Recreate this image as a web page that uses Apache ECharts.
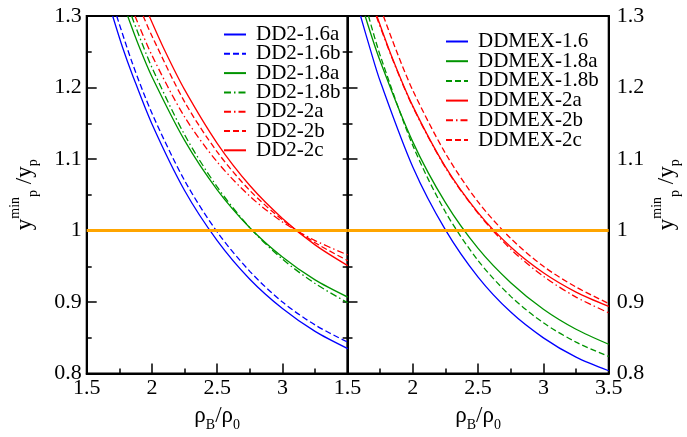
<!DOCTYPE html>
<html>
<head>
<meta charset="utf-8">
<script src="https://cdn.jsdelivr.net/npm/echarts@6/dist/echarts.min.js"></script>
<style>
  html, body { margin: 0; padding: 0; background: #fff; }
  #main { width: 687px; height: 437px; }
</style>
</head>
<body>
<div id="main"></div>
<script>
// tick values
const xTicks = [1.5, 2, 2.5, 3, 3.5];
const yTicks = [0.8, 0.9, 1.0, 1.1, 1.2, 1.3];
const refValue = 1.0;

// left panel, DD2 curves  [rho_B/rho_0, y_p^min/y_p]
const dd2_16a = [[1.699,1.3],[1.775,1.256],[1.85,1.218],[2.0,1.149],[2.25,1.056],[2.5,0.986],[2.75,0.932],[3.0,0.891],[3.25,0.859],[3.5,0.835]];
const dd2_16b = [[1.730,1.3],[1.85,1.234],[2.0,1.164],[2.25,1.070],[2.5,0.998],[2.75,0.943],[3.0,0.900],[3.25,0.868],[3.5,0.844]];
const dd2_18a = [[1.814,1.3],[1.9,1.258],[2.0,1.215],[2.25,1.126],[2.5,1.057],[2.75,1.004],[3.0,0.963],[3.25,0.931],[3.5,0.907]];
const dd2_18b = [[1.844,1.3],[1.9,1.273],[2.0,1.228],[2.25,1.134],[2.5,1.061],[2.75,1.004],[3.0,0.960],[3.25,0.926],[3.5,0.899]];
const dd2_2a  = [[1.870,1.3],[2.0,1.245],[2.25,1.159],[2.5,1.096],[2.75,1.048],[3.0,1.012],[3.25,0.986],[3.5,0.966]];
const dd2_2b  = [[1.933,1.3],[2.0,1.272],[2.25,1.180],[2.5,1.110],[2.75,1.056],[3.0,1.015],[3.25,0.983],[3.5,0.958]];
const dd2_2c  = [[1.979,1.3],[2.1,1.251],[2.25,1.197],[2.5,1.122],[2.75,1.063],[3.0,1.017],[3.25,0.980],[3.5,0.951]];

// right panel, DDMEX curves
const ddmex_16  = [[1.600,1.3],[1.675,1.253],[1.75,1.209],[2.0,1.089],[2.25,1.001],[2.5,0.935],[2.75,0.886],[3.0,0.850],[3.25,0.823],[3.5,0.804]];
const ddmex_18a = [[1.635,1.3],[1.75,1.237],[2.0,1.124],[2.25,1.039],[2.5,0.975],[2.75,0.927],[3.0,0.890],[3.25,0.862],[3.5,0.841]];
const ddmex_18b = [[1.661,1.3],[1.75,1.245],[2.0,1.119],[2.25,1.026],[2.5,0.958],[2.75,0.908],[3.0,0.871],[3.25,0.844],[3.5,0.824]];
const ddmex_2a  = [[1.725,1.3],[1.85,1.238],[2.0,1.174],[2.25,1.089],[2.5,1.025],[2.75,0.977],[3.0,0.941],[3.25,0.914],[3.5,0.894]];
const ddmex_2b  = [[1.720,1.3],[1.85,1.237],[2.0,1.173],[2.25,1.088],[2.5,1.024],[2.75,0.974],[3.0,0.936],[3.25,0.907],[3.5,0.885]];
const ddmex_2c  = [[1.775,1.3],[1.875,1.251],[2.0,1.196],[2.25,1.108],[2.5,1.040],[2.75,0.989],[3.0,0.950],[3.25,0.921],[3.5,0.898]];

const FONT = 'Liberation Serif, Times New Roman, Times, serif';
const BLUE = '#0000ff', GREEN = '#009400', RED = '#ff0000', ORANGE = '#ffa500';
const DASH = [6, 3];
const DASHDOT = [7, 3, 1.5, 3];

const chart = echarts.init(document.getElementById('main'), null, { renderer: 'canvas' });

function curve(name, data, color, dash, panel) {
  return {
    name: name,
    type: 'line',
    xAxisIndex: panel,
    yAxisIndex: panel * 2,
    data: data,
    smooth: 0.3,
    symbol: 'none',
    showSymbol: false,
    animation: false,
    lineStyle: { color: color, width: 1.3, type: dash },
    itemStyle: { color: color }
  };
}

function refLine(panel) {
  return {
    type: 'line',
    xAxisIndex: panel,
    yAxisIndex: panel * 2,
    data: [],
    silent: true,
    markLine: {
      silent: true,
      symbol: 'none',
      animation: false,
      label: { show: false },
      lineStyle: { color: ORANGE, width: 3, type: 'solid' },
      data: [{ yAxis: refValue }]
    }
  };
}

const yName = '{a|y}{sp|min}{sb|p}{a| /y}{sb|p}';
const xName = '{a|ρ}{sb|B}{a|/ρ}{sb|0}';
const nameRich = {
  a: { fontFamily: FONT, fontSize: 23, color: '#000', lineHeight: 32 },
  sp: { fontFamily: FONT, fontSize: 14, color: '#000', lineHeight: 14, verticalAlign: 'top' },
  sb: { fontFamily: FONT, fontSize: 14, color: '#000', lineHeight: 14, verticalAlign: 'bottom' }
};

const tickLine = { color: '#000', width: 1.5 };
const labelStyle = { fontFamily: FONT, fontSize: 22, color: '#000' };

function xAxis(panel) {
  return {
    type: 'value',
    gridIndex: panel,
    min: xTicks[0],
    max: xTicks[xTicks.length - 1],
    interval: 0.5,
    axisLine: { show: true, onZero: false, lineStyle: { color: '#000', width: 2 } },
    axisTick: { show: true, inside: true, length: 10, lineStyle: tickLine },
    minorTick: { show: true, splitNumber: 2, length: 5, lineStyle: tickLine },
    splitLine: { show: false },
    axisLabel: Object.assign({ margin: 4, showMaxLabel: panel === 1 }, labelStyle),
    name: xName,
    nameLocation: 'middle',
    nameGap: 24,
    nameTextStyle: { rich: nameRich }
  };
}

function yAxis(panel, position, withLabels) {
  const ax = {
    type: 'value',
    gridIndex: panel,
    position: position,
    min: yTicks[0],
    max: yTicks[yTicks.length - 1],
    interval: 0.1,
    axisLine: { show: true, onZero: false, lineStyle: { color: '#000', width: 2 } },
    axisTick: { show: true, inside: true, length: 10, lineStyle: tickLine },
    minorTick: { show: true, splitNumber: 2, length: 5, lineStyle: tickLine },
    splitLine: { show: false },
    axisLabel: Object.assign({ show: withLabels, margin: position === 'left' ? 5 : 8 }, labelStyle)
  };
  if (withLabels) {
    ax.name = yName;
    ax.nameLocation = 'middle';
    ax.nameRotate = 90;
    ax.nameGap = position === 'left' ? 46 : 42;
    ax.nameTextStyle = { rich: nameRich };
  }
  return ax;
}

const legendText = { fontFamily: FONT, fontSize: 21, color: '#000', lineHeight: 19, padding: [0, 0, 0, 5] };

const option = {
  backgroundColor: '#fff',
  animation: false,
  grid: [
    { left: 86.7, top: 16, width: 261, height: 367.3, show: true, borderColor: '#000', borderWidth: 2 },
    { left: 347.5, top: 16, width: 261.2, height: 367.3, show: true, borderColor: '#000', borderWidth: 2 }
  ],
  xAxis: [xAxis(0), xAxis(1)],
  yAxis: [
    yAxis(0, 'left', true),
    Object.assign(yAxis(0, 'right', false), { axisTick: { show: true, inside: true, length: 5, lineStyle: tickLine }, minorTick: { show: true, splitNumber: 2, length: 5, lineStyle: tickLine } }),
    yAxis(1, 'left', false),
    Object.assign(yAxis(1, 'right', true), { axisTick: { show: false }, minorTick: { show: false } })
  ],
  legend: [
    {
      orient: 'vertical', left: 218, top: 19, itemGap: -1.7, itemWidth: 22, itemHeight: 10,
      textStyle: legendText, inactiveColor: '#000', itemStyle: { opacity: 0 },
      data: ['DD2-1.6a', 'DD2-1.6b', 'DD2-1.8a', 'DD2-1.8b', 'DD2-2a', 'DD2-2b', 'DD2-2c']
    },
    {
      orient: 'vertical', left: 440, top: 26, itemGap: -1.3, itemWidth: 22, itemHeight: 10,
      textStyle: legendText, inactiveColor: '#000', itemStyle: { opacity: 0 },
      data: ['DDMEX-1.6', 'DDMEX-1.8a', 'DDMEX-1.8b', 'DDMEX-2a', 'DDMEX-2b', 'DDMEX-2c']
    }
  ],
  series: [
    refLine(0),
    refLine(1),
    curve('DD2-1.6a', dd2_16a, BLUE, 'solid', 0),
    curve('DD2-1.6b', dd2_16b, BLUE, DASH, 0),
    curve('DD2-1.8a', dd2_18a, GREEN, 'solid', 0),
    curve('DD2-1.8b', dd2_18b, GREEN, DASHDOT, 0),
    curve('DD2-2a', dd2_2a, RED, DASHDOT, 0),
    curve('DD2-2b', dd2_2b, RED, DASH, 0),
    curve('DD2-2c', dd2_2c, RED, 'solid', 0),
    curve('DDMEX-1.6', ddmex_16, BLUE, 'solid', 1),
    curve('DDMEX-1.8a', ddmex_18a, GREEN, 'solid', 1),
    curve('DDMEX-1.8b', ddmex_18b, GREEN, DASH, 1),
    curve('DDMEX-2a', ddmex_2a, RED, 'solid', 1),
    curve('DDMEX-2b', ddmex_2b, RED, DASHDOT, 1),
    curve('DDMEX-2c', ddmex_2c, RED, DASH, 1)
  ]
};

chart.setOption(option);
</script>
</body>
</html>
